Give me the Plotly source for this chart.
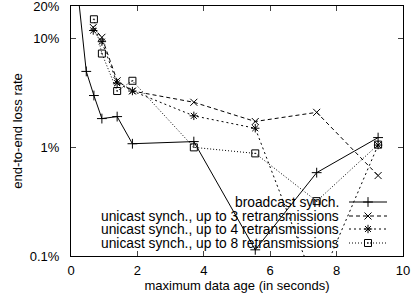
import plotly.graph_objects as go

# ---- data (values in percent) ----
x_bcast = [0.23, 0.46, 0.69, 0.93, 1.39, 1.85, 3.7, 5.55, 7.4, 9.25]
y_bcast = [23.0, 5.0, 3.0, 1.84, 1.92, 1.08, 1.13, 0.114, 0.585, 1.23]
x_uni = [0.67, 0.93, 1.39, 1.85, 3.7, 5.55, 7.4, 9.25]
y_uni3 = [12.7, 10.3, 4.1, 3.3, 2.6, 1.73, 2.1, 0.55]
y_uni4 = [11.9, 9.4, 3.9, 3.3, 1.95, 1.5, 0.05, 1.05]
x_uni8 = [0.69, 0.93, 1.39, 1.85, 3.7, 5.55, 7.4, 9.25]
y_uni8 = [15.1, 7.3, 3.3, 4.1, 1.0, 0.88, 0.32, 1.06]

names = ["broadcast synch.",
         "unicast synch., up to 3 retransmissions",
         "unicast synch., up to 4 retransmissions",
         "unicast synch., up to 8 retransmissions"]
x_ticks = [0, 2, 4, 6, 8, 10]
y_ticks = [0.1, 1, 10, 20]
y_ticktext = ["0.1%", "1%", "10%", "20%"]

FONT = "Liberation Sans, Arial, Helvetica, sans-serif"
FS = 13
FS_LEG = 13.8

styles = [
    dict(dash="solid", symbol="cross-thin-open", size=7),
    dict(dash="4px,3px", symbol="x-thin-open", size=7),
    dict(dash="2px,3px", symbol="asterisk-open", size=7),
    dict(dash="1px,2px", symbol="square-open-dot", size=7),
]
series = [(x_bcast, y_bcast), (x_uni, y_uni3), (x_uni, y_uni4), (x_uni8, y_uni8)]

fig = go.Figure()
for (xs, ys), st, nm in zip(series, styles, names):
    fig.add_trace(go.Scatter(
        x=xs, y=ys, mode="lines+markers", name=nm, showlegend=False,
        line=dict(color="black", width=1, dash=st["dash"]),
        marker=dict(symbol=st["symbol"], size=st["size"], color="black",
                    line=dict(color="black", width=1)),
    ))

# ---- custom legend (text left, sample right), in pixel-like overlay axes ----
leg_rows = [202, 216, 229, 243]
leg_text_right = 341
leg_line = [349, 387]
for (st, nm, yr) in zip(styles, names, leg_rows):
    fig.add_trace(go.Scatter(
        x=leg_line, y=[yr, yr], mode="lines", xaxis="x2", yaxis="y2",
        showlegend=False, hoverinfo="skip",
        line=dict(color="black", width=1, dash=st["dash"])))
    fig.add_trace(go.Scatter(
        x=[sum(leg_line) / 2], y=[yr], mode="markers", xaxis="x2", yaxis="y2",
        showlegend=False, hoverinfo="skip",
        marker=dict(symbol=st["symbol"], size=st["size"], color="black",
                    line=dict(color="black", width=1))))
    fig.add_annotation(x=leg_text_right, y=yr, xref="x2", yref="y2",
                       text=nm, showarrow=False, xanchor="right", yanchor="middle",
                       font=dict(family=FONT, size=FS_LEG, color="black"))

fig.update_layout(
    width=414, height=302,
    margin=dict(l=71, r=11, t=6, b=46),
    paper_bgcolor="white", plot_bgcolor="white",
    font=dict(family=FONT, size=FS, color="black"),
    xaxis=dict(range=[0, 10], tickvals=x_ticks, ticks="inside", ticklen=5,
               showline=True, linecolor="black", linewidth=1, mirror="ticks",
               showgrid=False, zeroline=False, ticklabelstandoff=2,
               automargin=False, ticklabeloverflow="allow",
               title=dict(text="maximum data age (in seconds)", standoff=4,
                          font=dict(size=FS))),
    yaxis=dict(type="log", range=[-1, 1.3011], tickvals=y_ticks, ticktext=y_ticktext,
               ticks="inside", ticklen=5, showline=True, linecolor="black",
               linewidth=1, mirror="ticks", showgrid=False, zeroline=False,
               ticklabelstandoff=8, automargin=False, ticklabeloverflow="allow",
               title=dict(text="end-to-end loss rate", standoff=4,
                          font=dict(size=FS))),
    xaxis2=dict(overlaying="x", range=[71, 403], visible=False),
    yaxis2=dict(overlaying="y", range=[256, 6], visible=False),
)

fig.write_html("out.html", config={"displayModeBar": False},
               post_script="document.body.style.margin='0';document.body.style.overflow='hidden';")
